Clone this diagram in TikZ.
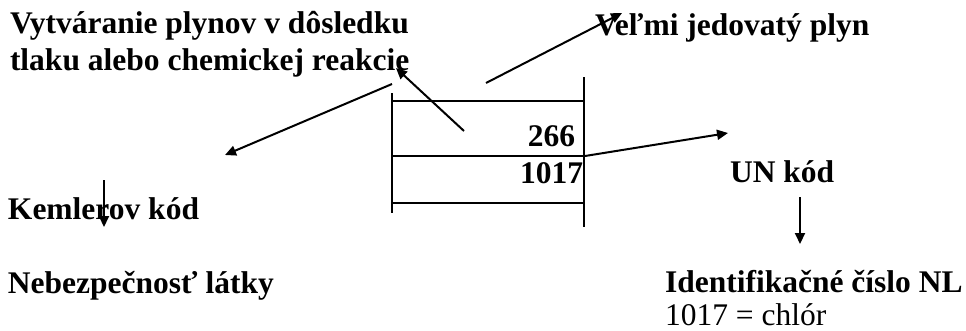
\documentclass[tikz,border=0pt]{standalone}
\usepackage{fontspec}
\setmainfont{Liberation Serif}
\usetikzlibrary{arrows.meta}
\begin{document}
\begin{tikzpicture}[x=1pt,y=-1pt,
  label/.style={anchor=base west,inner sep=0pt,outer sep=0pt,
    font=\fontsize{31.5}{37}\selectfont\bfseries},
  plain/.style={anchor=base west,inner sep=0pt,outer sep=0pt,
    font=\fontsize{31.5}{37}\selectfont},
  code/.style={anchor=base east,inner sep=0pt,outer sep=0pt,
    font=\fontsize{31.5}{37}\selectfont\bfseries},
  rule/.style={line width=1.3pt},
  pointer/.style={line width=2pt,-{Triangle[length=11pt,width=10pt]}}]
\useasboundingbox (0,0) rectangle (966,330);

% the orange plate: three rows between two uprights
\draw[rule] (392,93) -- (392,213);
\draw[rule] (584,77) -- (584,227);
\draw[rule] (392,101) -- (584,101);
\draw[rule] (392,156) -- (584,156);
\draw[rule] (392,203) -- (584,203);
\node[code] (kemler) at (575,146) {266};
\node[code] (un) at (583,183) {1017};

% captions
\node[label] (gas1) at (10,33) {Vytváranie plynov v dôsledku};
\node[label] (gas2) at (10,70) {tlaku alebo chemickej reakcie};
\node[label] (toxic) at (595,35) {Veľmi jedovatý plyn};
\node[label] (kemlerlbl) at (8,219) {Kemlerov kód};
\node[label] (hazard) at (8,293) {Nebezpečnosť látky};
\node[label] (unlbl) at (730,182) {UN kód};
\node[label] (idnum) at (665,292) {Identifikačné číslo NL};
\node[plain] (chlor) at (665,325) {1017 = chlór};

% pointer end points
\coordinate (a1s) at (464,131);
\coordinate (a1e) at (396,68);
\coordinate (a2s) at (486,83);
\coordinate (a2e) at (622,13);
\coordinate (a3s) at (392,84);
\coordinate (a3e) at (225,155);
\coordinate (a4s) at (585,156);
\coordinate (a4e) at (728,133);
\coordinate (a5s) at (104,180);
\coordinate (a5e) at (104,227);
\coordinate (a6s) at (800,197);
\coordinate (a6e) at (800,244);

\draw[pointer] (a1s) -- (a1e);
\draw[pointer] (a2s) -- (a2e);
\draw[pointer] (a3s) -- (a3e);
\draw[pointer] (a4s) -- (a4e);
\draw[pointer] (a5s) -- (a5e);
\draw[pointer] (a6s) -- (a6e);
\end{tikzpicture}
\end{document}
